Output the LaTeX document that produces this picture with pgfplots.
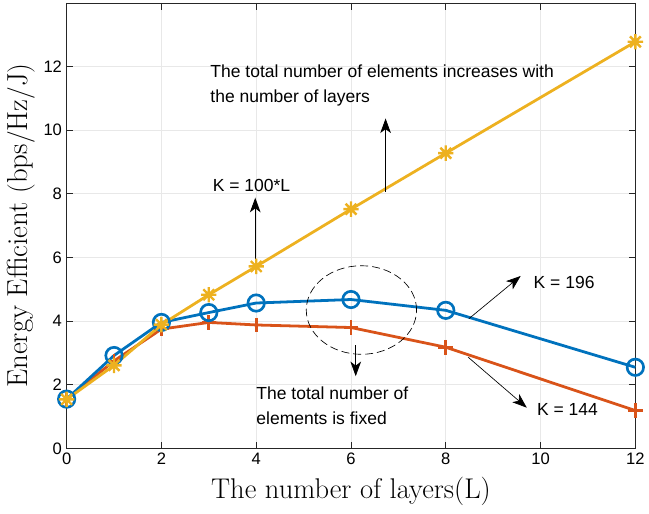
\documentclass[border=0pt]{standalone}
\usepackage{pgfplots}
\pgfplotsset{compat=1.18}
\usepackage{fontspec}
\newfontfamily\arialf{Liberation Sans}
\usetikzlibrary{arrows.meta}
\definecolor{mblue}{rgb}{0,0.447,0.741}
\definecolor{morange}{rgb}{0.85,0.325,0.098}
\definecolor{myellow}{rgb}{0.929,0.694,0.125}
\pgfdeclareplotmark{mstar}{%
  \pgfpathmoveto{\pgfqpoint{0pt}{\pgfplotmarksize}}\pgfpathlineto{\pgfqpoint{0pt}{-\pgfplotmarksize}}%
  \pgfpathmoveto{\pgfqpoint{\pgfplotmarksize}{0pt}}\pgfpathlineto{\pgfqpoint{-\pgfplotmarksize}{0pt}}%
  \pgfpathmoveto{\pgfqpoint{0.707\pgfplotmarksize}{0.707\pgfplotmarksize}}\pgfpathlineto{\pgfqpoint{-0.707\pgfplotmarksize}{-0.707\pgfplotmarksize}}%
  \pgfpathmoveto{\pgfqpoint{0.707\pgfplotmarksize}{-0.707\pgfplotmarksize}}\pgfpathlineto{\pgfqpoint{-0.707\pgfplotmarksize}{0.707\pgfplotmarksize}}%
  \pgfusepathqstroke}
\begin{document}
\begin{tikzpicture}
\begin{axis}[
  scale only axis,
  width=429pt, height=336pt,
  xmin=0, xmax=12, ymin=0, ymax=14,
  xtick={0,2,4,6,8,10,12},
  ytick={0,2,4,6,8,10,12},
  grid=major,
  grid style={gray!18, line width=0.6pt},
  axis line style={line width=0.7pt, black!85},
  tick align=inside,
  major tick length=5pt,
  tick style={black!85, line width=0.6pt},
  ticklabel style={font=\arialf\fontsize{12.5}{14}\selectfont},
  /pgf/number format/assume math mode=true,
  xlabel={The number of layers(L)},
  ylabel={Energy Efficient $(\mathrm{bps/Hz/J})$},
  xlabel style={font=\fontsize{21.5}{24}\selectfont, at={(axis description cs:0.5,-0.097)}, anchor=center},
  ylabel style={font=\fontsize{21.8}{24}\selectfont, at={(axis description cs:-0.0804,0.5)}, anchor=center},
  clip=false,
]
\path ([xshift=-50.25pt,yshift=-48.75pt]rel axis cs:0,0) rectangle ([xshift=7.5pt,yshift=2.25pt]rel axis cs:1,1);
\addplot[morange, line width=2.1pt, mark=+, mark size=5.5pt, mark options={line width=2pt}] coordinates {
 (0,1.55) (1,2.75) (2,3.75) (3,3.96) (4,3.88) (6,3.80) (8,3.18) (12,1.19)};
\addplot[mblue, line width=2.1pt, mark=o, mark size=6.2pt, mark options={line width=2pt}] coordinates {
 (0,1.55) (1,2.92) (2,3.96) (3,4.27) (4,4.57) (6,4.68) (8,4.34) (12,2.55)};
\addplot[myellow, line width=2.1pt, mark=mstar, mark size=5.8pt, mark options={line width=1.8pt}] coordinates {
 (0,1.54) (1,2.61) (2,3.89) (3,4.83) (4,5.72) (6,7.52) (8,9.28) (12,12.78)};

\node[anchor=west, font=\arialf\fontsize{13.2}{15}\selectfont, align=left, inner sep=0pt] at (axis cs:3.03,11.4) {The total number of elements increases with\\[4pt]the number of layers};
\draw[line width=0.6pt, -{Stealth[length=11pt,width=8pt,inset=3pt]}] (axis cs:6.73,8.07) -- (axis cs:6.73,10.37);
\node[anchor=west, font=\arialf\fontsize{13.2}{15}\selectfont, inner sep=0pt] at (axis cs:3.08,8.26) {K = 100*L};
\draw[line width=0.6pt, -{Stealth[length=11pt,width=8pt,inset=3pt]}] (axis cs:3.98,5.72) -- (axis cs:3.98,7.88);
\draw[dash pattern=on 6pt off 3pt, line width=0.5pt] (axis cs:6.22,4.35) ellipse [x radius=41.6pt, y radius=33.4pt];
\draw[line width=0.6pt, -{Stealth[length=11pt,width=8pt,inset=3pt]}] (axis cs:6.1,3.24) -- (axis cs:6.1,2.27);
\node[anchor=west, font=\arialf\fontsize{13.2}{15}\selectfont, align=left, inner sep=0pt] at (axis cs:4.0,1.35) {The total number of\\[4pt]elements is fixed};
\draw[line width=0.5pt, -{Stealth[length=11pt,width=8pt,inset=3pt]}] (axis cs:8.49,4.08) -- (axis cs:9.58,5.42);
\node[anchor=west, font=\arialf\fontsize{13.2}{15}\selectfont, inner sep=0pt] at (axis cs:9.85,5.23) {K = 196};
\draw[line width=0.5pt, -{Stealth[length=11pt,width=8pt,inset=3pt]}] (axis cs:8.47,2.87) -- (axis cs:9.71,1.28);
\node[anchor=west, font=\arialf\fontsize{13.2}{15}\selectfont, inner sep=0pt] at (axis cs:9.92,1.21) {K = 144};
\end{axis}
\end{tikzpicture}
\end{document}
